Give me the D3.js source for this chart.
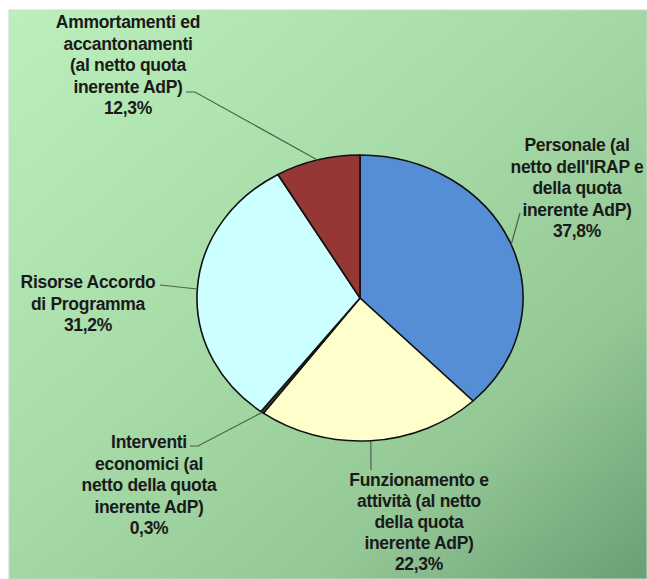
<!DOCTYPE html>
<html>
<head>
<meta charset="utf-8">
<script src="https://cdn.jsdelivr.net/npm/d3@7"></script>
<style>
    html, body { margin: 0; padding: 0; background: #fff; }
    svg { display: block; }
</style>
</head>
<body>
<svg id="chart" width="647" height="579"></svg>
<script>
// slice values as drawn, in clockwise order from 12 o'clock
const categories = ['Personale', 'Funzionamento', 'Interventi', 'Risorse', 'Ammortamenti'];
const values = [37.8, 22.3, 0.3, 31.2, 8.4];
const labelLines = [
    ['Personale (al', "netto dell'IRAP e", 'della quota', 'inerente AdP)', '37,8%'],
    ['Funzionamento e', 'attività (al netto', 'della quota', 'inerente AdP)', '22,3%'],
    ['Interventi', 'economici (al', 'netto della quota', 'inerente AdP)', '0,3%'],
    ['Risorse Accordo', 'di Programma', '31,2%'],
    ['Ammortamenti ed', 'accantonamenti', '(al netto quota', 'inerente AdP)', '12,3%']
];
const colors = ['#558ed5', '#ffffcc', '#4a4a3a', '#ccffff', '#953735'];

// label placement (centre x, first baseline y, line step) and leader start points
const layout = [
    {x: 577, y: 151, step: 21.5, lead: [[520, 213]]},
    {x: 419, y: 486, step: 21, lead: [[371, 470]]},
    {x: 149, y: 448, step: 21.5, lead: [[190, 446], [198, 446]]},
    {x: 88, y: 288, step: 21.5, lead: [[160, 285]]},
    {x: 128, y: 28, step: 21.5, lead: [[186, 92], [195, 92]]}
];

const svg = d3.select('#chart');
const W = 647, H = 579;
const cx = 360, cy = 298, rx = 163, ry = 143;

const defs = svg.append('defs');
const grad = defs.append('linearGradient')
    .attr('id', 'bg')
    .attr('x1', '0%').attr('y1', '0%')
    .attr('x2', '100%').attr('y2', '100%');
[[0, '#bbefbb'], [0.45, '#a6daa6'], [0.75, '#93c795'], [1, '#6a9f77']].forEach(s => {
    grad.append('stop').attr('offset', s[0]).attr('stop-color', s[1]);
});

svg.append('rect')
    .attr('x', 9).attr('y', 10)
    .attr('width', W - 9).attr('height', H - 10)
    .attr('fill', 'url(#bg)')
    .attr('stroke', '#c8dcc8')
    .attr('stroke-width', 1);

const pie = d3.pie().sort(null).value(d => d);
const arcs = pie(values);
const arc = d3.arc().innerRadius(0).outerRadius(rx);

const g = svg.append('g')
    .attr('transform', `translate(${cx},${cy}) scale(1,${ry / rx})`);

g.selectAll('path')
    .data(arcs)
    .join('path')
    .attr('d', arc)
    .attr('fill', (d, i) => colors[i])
    .attr('stroke', '#111')
    .attr('stroke-width', 1.6)
    .attr('stroke-linejoin', 'round')
    .attr('vector-effect', 'non-scaling-stroke');

// leader lines: label -> edge of the ellipse at the slice mid angle
const edgePoint = d => {
    const a = (d.startAngle + d.endAngle) / 2;
    return [cx + rx * Math.sin(a), cy - ry * Math.cos(a)];
};

const line = d3.line();
arcs.forEach((d, i) => {
    const pts = layout[i].lead.concat([edgePoint(d)]);
    svg.append('path')
        .attr('d', line(pts))
        .attr('fill', 'none')
        .attr('stroke', '#4f5f50')
        .attr('stroke-width', 1.2);
});

labelLines.forEach((lines, i) => {
    const t = svg.append('text')
        .attr('text-anchor', 'middle')
        .attr('font-family', 'Liberation Sans, Arial, sans-serif')
        .attr('font-weight', 'bold')
        .attr('font-size', 17.5)
        .attr('letter-spacing', -0.3)
        .attr('fill', '#1a1a1a');
    lines.forEach((s, j) => {
        t.append('tspan')
            .attr('x', layout[i].x)
            .attr('y', layout[i].y + j * layout[i].step)
            .text(s);
    });
});
</script>
</body>
</html>
